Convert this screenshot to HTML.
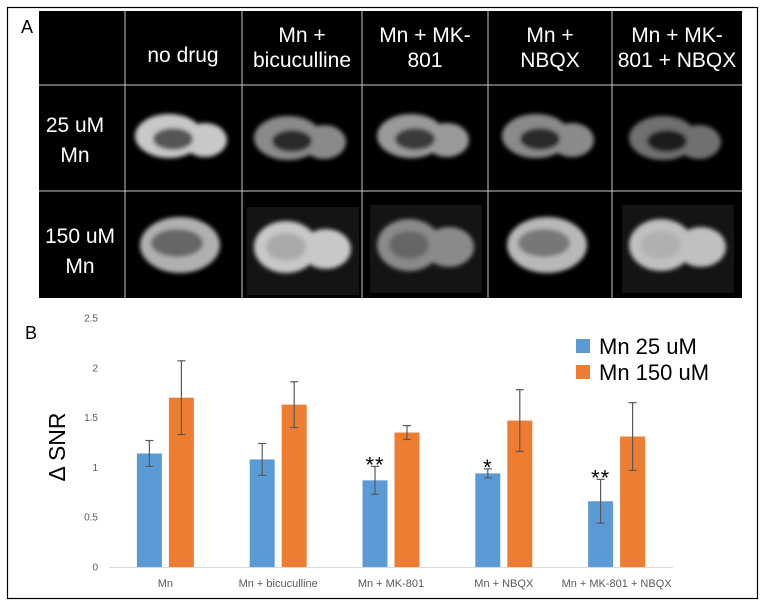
<!DOCTYPE html>
<html><head><meta charset="utf-8">
<style>
html,body{margin:0;padding:0;background:#fff;}
body{width:768px;height:605px;overflow:hidden;font-family:"Liberation Sans",sans-serif;}
svg{display:block}
</style></head>
<body>
<svg id="fig" width="768" height="605" viewBox="0 0 768 605" xmlns="http://www.w3.org/2000/svg">
<defs>
<filter id="b1" x="-20%" y="-30%" width="140%" height="160%"><feGaussianBlur stdDeviation="2"/></filter>
</defs>
<rect x="7.5" y="7.5" width="750" height="591" fill="none" stroke="#000" stroke-width="1.2"/>
<g>
<rect x="39" y="11" width="703" height="287" fill="#000"/>
<text x="21" y="33" font-size="18" fill="#000">A</text>
<g id="brains"></g>
<g stroke="#c8c8c8" stroke-width="1">
<line x1="125" y1="11" x2="125" y2="298"/><line x1="242" y1="11" x2="242" y2="298"/>
<line x1="362" y1="11" x2="362" y2="298"/><line x1="488" y1="11" x2="488" y2="298"/>
<line x1="612" y1="11" x2="612" y2="298"/>
<line x1="39" y1="85" x2="742" y2="85"/><line x1="39" y1="191" x2="742" y2="191"/>
</g>
<g fill="#fff" font-size="21" text-anchor="middle">
<text x="183" y="62">no drug</text>
<text x="302" y="42"><tspan x="302">Mn +</tspan><tspan x="302" dy="25">bicuculline</tspan></text>
<text x="425" y="42"><tspan x="425">Mn + MK-</tspan><tspan x="425" dy="25">801</tspan></text>
<text x="550" y="42"><tspan x="550">Mn +</tspan><tspan x="550" dy="25">NBQX</tspan></text>
<text x="677" y="42"><tspan x="677">Mn + MK-</tspan><tspan x="677" dy="25">801 + NBQX</tspan></text>
<text x="75" y="132"><tspan x="75">25 uM</tspan><tspan x="75" dy="30">Mn</tspan></text>
<text x="80" y="243"><tspan x="80">150 uM</tspan><tspan x="80" dy="30">Mn</tspan></text>
</g>
</g>
<g>
<text x="25" y="339" font-size="18" fill="#000">B</text>
<text transform="translate(65,447) rotate(-90)" text-anchor="middle" font-size="23" fill="#000">Δ SNR</text>
<g id="chart"></g>
<rect x="576" y="339" width="14" height="14" fill="#5b9bd5"/>
<text x="599" y="354" font-size="22" fill="#000">Mn 25 uM</text>
<rect x="576" y="365" width="14" height="14" fill="#ed7d31"/>
<text x="599" y="380" font-size="22" fill="#000">Mn 150 uM</text>
</g>
</svg>
<script>
const categories = ["Mn", "Mn + bicuculline", "Mn + MK-801", "Mn + NBQX", "Mn + MK-801 + NBQX"];
const mn25 = [1.14, 1.08, 0.87, 0.94, 0.66];
const mn25Err = [0.13, 0.16, 0.14, 0.045, 0.22];
const mn150 = [1.70, 1.63, 1.35, 1.47, 1.31];
const mn150Err = [0.37, 0.23, 0.07, 0.31, 0.34];
const stars = ["", "", "**", "*", "**"];
const yTicks = [0, 0.5, 1, 1.5, 2, 2.5];

const NS = "http://www.w3.org/2000/svg";
const chart = document.getElementById("chart");
const x0 = 109, x1 = 673, yBase = 567, yTop = 318, yMax = 2.5;
function yScale(v){ return yBase - (v / yMax) * (yBase - yTop); }
const band = (x1 - x0) / categories.length;
function xBand(i){ return x0 + band * i; }
const barW = 25, gap = 7;
function mk(tag, attrs){ const e = document.createElementNS(NS, tag); for (const k in attrs) e.setAttribute(k, attrs[k]); chart.appendChild(e); return e; }

yTicks.forEach(t => {
  const e = mk("text", {x: 98, y: yScale(t) + 3.5, "font-size": 10, fill: "#595959", "text-anchor": "end"});
  e.textContent = String(t);
  
  
});
const ax = mk("line", {x1: x0, y1: yBase + 0.5, x2: x1, y2: yBase + 0.5, stroke: "#d9d9d9", "stroke-width": 1});



function errBar(cx, v, e){
  const g = [[cx, yScale(v + e), cx, yScale(v - e)], [cx - 4, yScale(v + e), cx + 4, yScale(v + e)], [cx - 4, yScale(v - e), cx + 4, yScale(v - e)]];
  g.forEach(l => {
    const el = mk("line", {x1: l[0], y1: l[1], x2: l[2], y2: l[3], stroke: "#595959", "stroke-width": 1.2});
    
    
  });
}

categories.forEach((c, i) => {
  const center = xBand(i) + band / 2;
  const bx = center - gap / 2 - barW, ox = center + gap / 2;
  const b = mk("rect", {x: bx, y: yScale(mn25[i]), width: barW, height: yBase - yScale(mn25[i]), fill: "#5b9bd5"});
  
  
  const o = mk("rect", {x: ox, y: yScale(mn150[i]), width: barW, height: yBase - yScale(mn150[i]), fill: "#ed7d31"});
  
  
  errBar(bx + barW / 2, mn25[i], mn25Err[i]);
  errBar(ox + barW / 2, mn150[i], mn150Err[i]);
  if (stars[i]) {
    const s = mk("text", {x: bx + barW / 2, y: yScale(mn25[i] + mn25Err[i]) + 6, "font-size": 22, fill: "#000", "text-anchor": "middle", "letter-spacing": 1});
    s.textContent = stars[i];
    
    
  }
  const lab = mk("text", {x: center, y: 587, "font-size": 11, fill: "#595959", "text-anchor": "middle"});
  lab.textContent = c;
  
  
});

const brains = document.getElementById("brains");
const cells = [
 [183,138,"#c8c8c8","#555",1],[302,140,"#8a8a8a","#2a2a2a",1],[425,138,"#9a9a9a","#3a3a3a",1],[550,138,"#8a8a8a","#2a2a2a",1],[677,140,"#707070","#1a1a1a",1],
 [183,245,"#b0b0b0","#666",2],[302,247,"#c8c8c8","#aaa",3],[425,245,"#8a8a8a","#666",3],[550,245,"#b8b8b8","#777",2],[677,245,"#c0c0c0","#b0b0b0",3]
];
function bnode(tag, attrs){ const e = document.createElementNS(NS, tag); for (const k in attrs) e.setAttribute(k, attrs[k]); brains.appendChild(e); return e; }
cells.forEach(c => {
  const [cx, cy, f, inner, t] = c;
  if (t === 3) { const bg = bnode("rect", {x: cx - 55, y: cy - 40, width: 112, height: 88, fill: "#141414"});   }
  const g = document.createElementNS(NS, "g");
  g.setAttribute("filter", "url(#b1)");
  
  
  brains.appendChild(g);
  const add = (a, tag) => { const e = document.createElementNS(NS, tag || "ellipse"); for (const k in a) e.setAttribute(k, a[k]); g.appendChild(e); };
  if (t === 1) {
    add({cx: cx - 14, cy: cy - 2, rx: 34, ry: 22, fill: f});
    add({cx: cx + 22, cy: cy + 2, rx: 22, ry: 17, fill: f});
    add({cx: cx - 10, cy: cy + 1, rx: 20, ry: 11, fill: inner});
  } else if (t === 2) {
    add({cx: cx - 3, cy: cy, rx: 40, ry: 28, fill: f});
    add({cx: cx - 6, cy: cy - 2, rx: 26, ry: 14, fill: inner});
  } else {
    add({cx: cx - 16, cy: cy, rx: 32, ry: 26, fill: f});
    add({cx: cx + 24, cy: cy + 2, rx: 25, ry: 20, fill: f});
    add({cx: cx - 16, cy: cy, rx: 20, ry: 14, fill: inner});
  }
});
</script>
</body></html>
